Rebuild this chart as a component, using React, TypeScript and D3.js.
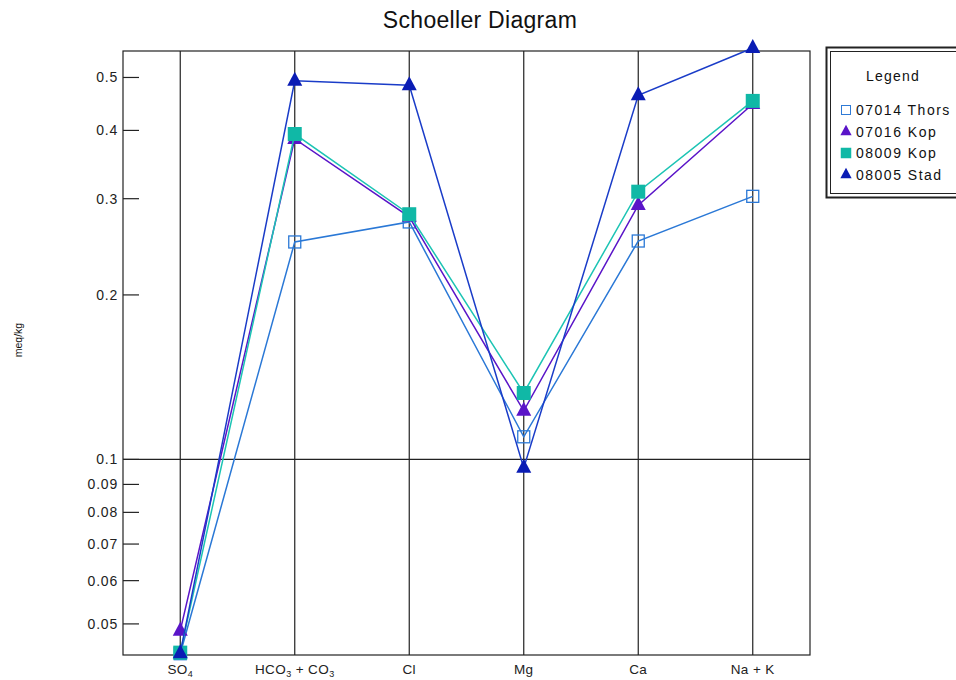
import React, { useEffect, useRef } from 'react';
import * as d3 from 'd3';

const width = 956;
const height = 680;
const margin = { left: 123, right: 146, top: 51, bottom: 25 };

const ions = ['SO4', 'HCO3 + CO3', 'Cl', 'Mg', 'Ca', 'Na + K'];
const yTicks = [0.05, 0.06, 0.07, 0.08, 0.09, 0.1, 0.2, 0.3, 0.4, 0.5];

const seriesNames = ['07014 Thors', '07016 Kop', '08009 Kop', '08005 Stad'];
const thors07014 = [0.0441, 0.25, 0.272, 0.11, 0.251, 0.303];
const kop07016 = [0.0486, 0.386, 0.278, 0.1227, 0.292, 0.447];
const kop08009 = [0.0443, 0.394, 0.281, 0.1323, 0.309, 0.453];
const stad08005 = [0.0442, 0.493, 0.484, 0.0965, 0.464, 0.566];

const series = [
  { name: seriesNames[0], values: thors07014, line: '#2a78d6', marker: 'openSquare' },
  { name: seriesNames[1], values: kop07016, line: '#5a14c8', marker: 'triangle' },
  { name: seriesNames[2], values: kop08009, line: '#1cc4b4', marker: 'square', fill: '#10b8a6' },
  { name: seriesNames[3], values: stad08005, line: '#1a3cc8', marker: 'triangle', fill: '#0a1cb4' },
];

const font = '"Liberation Sans", Arial, sans-serif';

export default function App() {
  const ref = useRef(null);

  useEffect(() => {
    const svg = d3.select(ref.current);
    svg.selectAll('*').remove();

    const x = d3.scalePoint()
      .domain(ions)
      .range([margin.left, width - margin.right])
      .padding(0.5);

    const y = d3.scaleLog()
      .domain([0.04386, 0.559])
      .range([height - margin.bottom, margin.top]);

    // title
    svg.append('text')
      .attr('x', 480).attr('y', 28)
      .attr('text-anchor', 'middle')
      .attr('font-family', font).attr('font-size', 23)
      .attr('letter-spacing', 0.3)
      .attr('fill', '#111')
      .text('Schoeller Diagram');

    // y label
    svg.append('text')
      .attr('transform', 'translate(22, 340) rotate(-90)')
      .attr('text-anchor', 'middle')
      .attr('font-family', font).attr('font-size', 10.5)
      .attr('fill', '#111')
      .text('meq/kg');

    const g = svg.append('g');

    // frame
    g.append('rect')
      .attr('x', margin.left).attr('y', margin.top)
      .attr('width', width - margin.right - margin.left)
      .attr('height', height - margin.bottom - margin.top)
      .attr('fill', 'none').attr('stroke', '#222').attr('stroke-width', 1.2);

    // vertical grid at each ion
    g.selectAll('line.vgrid')
      .data(ions)
      .enter().append('line')
      .attr('class', 'vgrid')
      .attr('x1', d => x(d)).attr('x2', d => x(d))
      .attr('y1', margin.top).attr('y2', height - margin.bottom)
      .attr('stroke', '#222').attr('stroke-width', 1.2);

    // horizontal line at 0.1
    g.append('line')
      .attr('x1', margin.left).attr('x2', width - margin.right)
      .attr('y1', y(0.1)).attr('y2', y(0.1))
      .attr('stroke', '#222').attr('stroke-width', 1.2);

    // y ticks
    const ticks = g.selectAll('g.ytick').data(yTicks).enter().append('g').attr('class', 'ytick');
    ticks.append('line')
      .attr('x1', margin.left).attr('x2', margin.left + 16)
      .attr('y1', d => y(d)).attr('y2', d => y(d))
      .attr('stroke', '#222').attr('stroke-width', 1.2);
    ticks.append('text')
      .attr('x', margin.left - 5).attr('y', d => y(d) + 5)
      .attr('text-anchor', 'end')
      .attr('font-family', font).attr('font-size', 14)
      .attr('letter-spacing', 0.8)
      .attr('fill', '#222')
      .text(d => String(d));

    // x labels with subscripts
    const xl = g.selectAll('text.xlab').data(ions).enter().append('text')
      .attr('class', 'xlab')
      .attr('x', d => x(d)).attr('y', 674)
      .attr('text-anchor', 'middle')
      .attr('font-family', font).attr('font-size', 13.5)
      .attr('letter-spacing', 0.4)
      .attr('fill', '#222');
    xl.each(function (d) {
      const t = d3.select(this);
      const parts = d.split(/(\d)/).filter(p => p !== '');
      let shifted = false;
      parts.forEach(p => {
        if (/\d/.test(p)) {
          t.append('tspan').attr('font-size', 9).attr('dy', 3).text(p);
          shifted = true;
        } else {
          t.append('tspan').attr('dy', shifted ? -3 : 0).text(p);
          shifted = false;
        }
      });
    });

    const line = d3.line()
      .x((d, i) => x(ions[i]))
      .y(d => y(d));

    const drawMarker = (sel, s, cx, cy) => {
      if (s.marker === 'openSquare') {
        sel.append('rect')
          .attr('x', cx - 6).attr('y', cy - 6).attr('width', 12).attr('height', 12)
          .attr('fill', 'none').attr('stroke', s.line).attr('stroke-width', 1.3);
      } else if (s.marker === 'square') {
        sel.append('rect')
          .attr('x', cx - 7).attr('y', cy - 7).attr('width', 14).attr('height', 14)
          .attr('fill', s.fill || s.line);
      } else {
        sel.append('path')
          .attr('d', `M${cx},${cy - 9}L${cx + 7.5},${cy + 5}L${cx - 7.5},${cy + 5}Z`)
          .attr('fill', s.fill || s.line);
      }
    };

    series.forEach(s => {
      const sg = g.append('g');
      sg.append('path')
        .attr('d', line(s.values))
        .attr('fill', 'none')
        .attr('stroke', s.line)
        .attr('stroke-width', 1.5);
      s.values.forEach((v, i) => drawMarker(sg, s, x(ions[i]), y(v)));
    });

    // legend
    const lg = svg.append('g');
    lg.append('rect')
      .attr('x', 826.5).attr('y', 47.5).attr('width', 150).attr('height', 150)
      .attr('fill', '#fff').attr('stroke', '#222').attr('stroke-width', 2);
    lg.append('rect')
      .attr('x', 830.5).attr('y', 51.5).attr('width', 150).attr('height', 142)
      .attr('fill', 'none').attr('stroke', '#222').attr('stroke-width', 1);
    lg.append('text')
      .attr('x', 893).attr('y', 81)
      .attr('text-anchor', 'middle')
      .attr('font-family', font).attr('font-size', 14)
      .attr('letter-spacing', 1.2)
      .attr('fill', '#111')
      .text('Legend');
    series.forEach((s, i) => {
      const cy = 110 + i * 21.5;
      const mg = lg.append('g').attr('transform', `translate(846, ${cy}) scale(0.75) translate(-846, ${-cy})`);
      drawMarker(mg, s, 846, cy);
      lg.append('text')
        .attr('x', 856).attr('y', cy + 5)
        .attr('font-family', font).attr('font-size', 14)
        .attr('letter-spacing', 1.5)
        .attr('fill', '#111')
        .text(s.name);
    });
  }, []);

  return (
    <svg
      ref={ref}
      width={width}
      height={height}
      style={{ position: 'absolute', left: 0, top: 0, background: '#fff' }}
    />
  );
}
